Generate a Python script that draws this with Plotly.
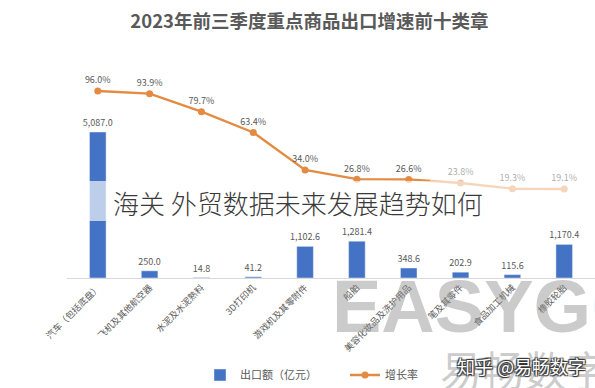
import plotly.graph_objects as go

categories = ["汽车（包括底盘）", "飞机及其他航空器", "水泥及水泥熟料", "3D打印机", "游戏机及其零附件",
              "船舶", "美容化妆品及洗护用品", "笔及其零件", "食品加工机械", "橡胶轮胎"]
export_values = [5087.0, 250.0, 14.8, 41.2, 1102.6, 1281.4, 348.6, 202.9, 115.6, 1170.4]
growth_rates = [96.0, 93.9, 79.7, 63.4, 34.0, 26.8, 26.6, 23.8, 19.3, 19.1]

title_text = "2023年前三季度重点商品出口增速前十类章"
overlay_text = "海关 外贸数据未来发展趋势如何"

FONT = "Noto Sans CJK SC"
GRAY = "#595959"
BLUE = "#4472C4"
ORANGE = "#E38B43"

fig = go.Figure()
fig.add_trace(go.Bar(
    x=categories, y=export_values, name="出口额（亿元）",
    marker_color=BLUE, width=0.32,
    text=[f"{v:,.1f}" for v in export_values], textposition="outside",
    constraintext="none",
    textfont=dict(size=9, color=GRAY, family=FONT), cliponaxis=False,
))
fig.add_trace(go.Scatter(
    x=categories, y=growth_rates, name="增长率", yaxis="y2",
    mode="lines+markers+text",
    line=dict(color=ORANGE, width=2.4), marker=dict(size=7, color=ORANGE),
    text=[f"{v:.1f}%" for v in growth_rates], textposition="top center",
    textfont=dict(size=9, color=GRAY, family=FONT), cliponaxis=False,
))

fig.update_layout(
    width=595, height=388,
    margin=dict(l=67, r=0, t=60, b=110, autoexpand=False),
    paper_bgcolor="white", plot_bgcolor="white",
    font=dict(family=FONT, color=GRAY),
    title=dict(text=f"<b>{title_text}</b>", x=0.52, xanchor="center",
               yref="container", y=1 - 22 / 388, yanchor="middle",
               font=dict(size=18.5, color=GRAY, family=FONT)),
    xaxis=dict(showgrid=False, tickangle=-45, tickfont=dict(size=9, color=GRAY, family=FONT),
               showline=True, linecolor="#D9D9D9", linewidth=1, ticks="", automargin=False),
    yaxis=dict(range=[0, 7596], visible=False, showgrid=False, automargin=False),
    yaxis2=dict(range=[-50.8, 120.3], overlaying="y", visible=False, showgrid=False, automargin=False),
    showlegend=True,
    legend=dict(orientation="h", x=(200 - 67) / 528, xanchor="left", y=(278 - 375) / 218, yanchor="middle",
                font=dict(size=11, color=GRAY, family=FONT),
                entrywidth=100, entrywidthmode="pixels",
                traceorder="normal"),
)

# semi-transparent band behind the overlay headline
fig.add_shape(type="rect", xref="paper", yref="paper", x0=-0.2, x1=1.05,
              y0=(278 - 221) / 218, y1=(278 - 181) / 218,
              fillcolor="rgba(255,255,255,0.65)", line_width=0, layer="above")
fig.add_shape(type="rect", xref="paper", yref="paper", x0=(430 - 67) / 528, x1=1.05,
              y0=(278 - 181) / 218, y1=(278 - 163) / 218,
              fillcolor="rgba(255,255,255,0.5)", line_width=0, layer="above")

fig.add_annotation(text=overlay_text, xref="paper", yref="paper",
                   x=(111 - 67) / 528, y=(278 - 202) / 218, xanchor="left", yanchor="middle",
                   showarrow=False, font=dict(size=26, color="#3a3a3a", family=FONT, weight=300))

# watermarks
fig.add_annotation(text="<b>EASYG<span style='color:rgba(170,205,235,0.45)'>O</span></b>",
                   xref="paper", yref="paper",
                   x=(330 - 67) / 528, y=(278 - 306) / 218, xanchor="left", yanchor="middle",
                   showarrow=False, font=dict(size=74, color="rgba(140,140,140,0.45)", family="Liberation Sans"))
fig.add_annotation(text="易畅数字", xref="paper", yref="paper",
                   x=(438 - 67) / 528, y=(278 - 368) / 218, xanchor="left", yanchor="middle",
                   showarrow=False, font=dict(size=42, color="rgba(140,140,140,0.45)", family=FONT))
fig.add_annotation(text="知乎 @易畅数字", xref="paper", yref="paper",
                   x=(455 - 67) / 528, y=(278 - 366) / 218, xanchor="left", yanchor="middle",
                   showarrow=False, font=dict(size=18, color="white", family=FONT,
                                              shadow="1px 1px 1px #333, -1px -1px 1px #333, 1px -1px 1px #333, -1px 1px 1px #333"))

fig.write_html("out.html", post_script="document.body.style.margin='0';",
               config={"displayModeBar": False})
